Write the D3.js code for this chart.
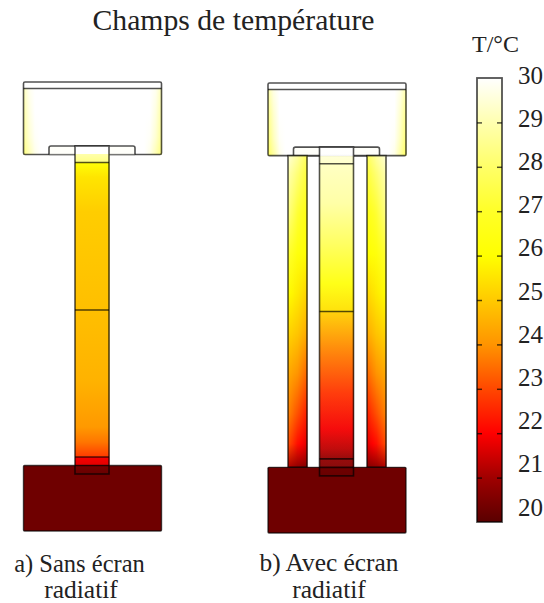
<!DOCTYPE html>
<html>
<head>
<meta charset="utf-8">
<script src="https://cdn.jsdelivr.net/npm/d3@7"></script>
<style>
body { margin: 0; background: #fff; }
text { font-family: "Liberation Serif", serif; fill: #222; }
</style>
</head>
<body>
<div id="chart"></div>
<script>
// colour map
var tempLevels = [20, 21, 22, 23, 24, 25, 26, 27, 28, 29, 30];
var tempColors = ["#5a0000", "#a00000", "#ff0000", "#ff4800", "#ff9400", "#ffca00", "#ffff00", "#ffff28", "#ffff68", "#ffffb0", "#ffffff"];
var tickValues = [20, 21, 22, 23, 24, 25, 26, 27, 28, 29, 30];

// model dimensions (same for both models)
var blockW = [0, 138];
var blockTopY = [0, 72.5];
var capY = 6.5;
var flangeX = [25.5, 111.5];
var flangeY = [64, 72.5];
var rodX = [51.5, 85.5];
var rodY = [64, 392];
var contactY = [80.5, 228, 375];
var blockBottomY = [383.5, 449];
var screenLeftX = [20, 39];
var screenRightX = [99, 118];
var screenY = [72.5, 383.5];

// temperature along the central rod, a) without screen
var rodStationsA = [64, 72.4, 72.5, 80.4, 80.6, 95, 130, 228, 300, 345, 360, 375, 375.2, 383.3, 383.5, 392];
var rodTempsA = [30, 30, 28.9, 28.4, 26.2, 25.5, 25.05, 24.8, 24.55, 24.1, 23.6, 22.8, 21.9, 21.7, 20.4, 20.2];

// temperature along the central rod, b) with screen
var rodStationsB = [64, 72.4, 72.5, 80.4, 80.6, 120, 160, 200, 228, 228.2, 270, 310, 345, 365, 375, 383.3, 383.5, 392];
var rodTempsB = [30, 30, 29.5, 29.3, 29.2, 28.8, 27.8, 26.3, 25.4, 25.1, 23.7, 22.7, 21.9, 21.3, 20.8, 20.6, 20.3, 20.2];

// radiative screen: outer side, middle, inner side
var screenStations = [72.5, 90, 130, 170, 210, 250, 290, 330, 360, 383.5];
var screenOuter = [29.5, 29, 28.4, 27.2, 26, 25.2, 24.4, 23.8, 23.1, 21.2];
var screenMiddle = [28.8, 28.2, 27.2, 26.3, 25.6, 24.9, 24, 23.1, 22.2, 20.8];
var screenInner = [27.8, 27.3, 26.5, 26, 25.2, 24.4, 23.4, 22.4, 21.7, 20.6];

// top block, columns from edge to centre
var topStations = [6.5, 30, 55, 72.5];
var topEdgeA = [29.1, 28.8, 28.6, 28.2];
var topNearEdgeA = [29.8, 29.6, 29.4, 29];
var topEdgeB = [28.9, 28.5, 28.2, 27.9];
var topNearEdgeB = [29.7, 29.4, 29.2, 28.8];
var topMiddle = [30, 30, 29.9, 29.7];
var topCentre = [30, 30, 30, 30];

var bottomBlockTemp = 20.3;

var svgWidth = 544;
var svgHeight = 603;

var svg = d3.select("#chart")
  .append("svg")
  .attr("width", svgWidth)
  .attr("height", svgHeight);

var defs = svg.append("defs");
var gradCount = 0;

var colorScale = d3.scaleLinear().domain(tempLevels).range(tempColors).clamp(true);

// outlines are see-through: grey on white, nearly black on the dark block
var outline = "rgba(0,0,0,0.68)";

// vertical gradient from a list of stations and temperatures
function verticalGradient(stations, temps) {
  var id = "grad" + (gradCount++);
  var grad = defs.append("linearGradient")
    .attr("id", id)
    .attr("x1", 0).attr("y1", 0).attr("x2", 0).attr("y2", 1);
  var pos = d3.scaleLinear().domain(d3.extent(stations)).range([0, 100]);
  stations.forEach(function(s, i) {
    grad.append("stop")
      .attr("offset", pos(s) + "%")
      .attr("stop-color", colorScale(temps[i]));
  });
  return "url(#" + id + ")";
}

// paints a field as thin vertical strips, blending the columns across the width
function drawField(g, xs, ys, x0, x1, stations, columns) {
  var left = xs(x0), right = xs(x1);
  var across = d3.scaleLinear()
    .domain(d3.range(columns.length).map(function(i) { return i / (columns.length - 1); }))
    .range(columns);
  var n = Math.ceil(right - left);
  d3.range(n).forEach(function(i) {
    var temps = across((i + 0.5) / n);
    g.append("rect")
      .attr("x", left + i * (right - left) / n)
      .attr("y", ys(stations[0]))
      .attr("width", (right - left) / n + 0.4)
      .attr("height", ys(stations[stations.length - 1]) - ys(stations[0]))
      .attr("fill", verticalGradient(stations, temps));
  });
}

function drawBox(g, xs, ys, xr, yr, radius) {
  return g.append("rect")
    .attr("x", xs(xr[0]))
    .attr("y", ys(yr[0]))
    .attr("width", xs(xr[1]) - xs(xr[0]))
    .attr("height", ys(yr[1]) - ys(yr[0]))
    .attr("rx", radius || 0)
    .attr("fill", "none")
    .attr("stroke", outline)
    .attr("stroke-width", 1.6);
}

function drawLine(g, xs, ys, xr, y, color) {
  g.append("line")
    .attr("x1", xs(xr[0])).attr("x2", xs(xr[1]))
    .attr("y1", ys(y)).attr("y2", ys(y))
    .attr("stroke", color || outline)
    .attr("stroke-width", 1.6);
}

function drawModel(xs, ys, rodStations, rodTemps, topEdge, topNearEdge, withScreen) {
  var g = svg.append("g");

  // top block
  var side = [topEdge, topNearEdge, topMiddle, topCentre];
  var middle = d3.range(17).map(function() { return topCentre; });
  drawField(g, xs, ys, blockW[0], blockW[1], topStations,
    side.concat(middle, side.slice().reverse()));
  drawBox(g, xs, ys, blockW, blockTopY, 1.5);
  drawLine(g, xs, ys, blockW, capY);

  // flange
  g.append("rect")
    .attr("x", xs(flangeX[0])).attr("y", ys(flangeY[0]))
    .attr("width", xs(flangeX[1]) - xs(flangeX[0]))
    .attr("height", ys(flangeY[1]) - ys(flangeY[0]))
    .attr("fill", "#fffffa");
  g.append("path")
    .attr("d", "M" + xs(flangeX[0]) + "," + ys(flangeY[1]) +
      "V" + (ys(flangeY[0]) + 2) + "Q" + xs(flangeX[0]) + "," + ys(flangeY[0]) + " " + (xs(flangeX[0]) + 2) + "," + ys(flangeY[0]) +
      "H" + (xs(flangeX[1]) - 2) + "Q" + xs(flangeX[1]) + "," + ys(flangeY[0]) + " " + xs(flangeX[1]) + "," + (ys(flangeY[0]) + 2) +
      "V" + ys(flangeY[1]))
    .attr("fill", "none")
    .attr("stroke", outline)
    .attr("stroke-width", 1.6);
  drawLine(g, xs, ys, flangeX, flangeY[1], withScreen ? outline : "rgba(0,0,0,0.3)");

  // radiative screen, hotter on the outer side
  if (withScreen) {
    drawField(g, xs, ys, screenLeftX[0], screenLeftX[1], screenStations, [screenOuter, screenMiddle, screenInner]);
    drawField(g, xs, ys, screenRightX[0], screenRightX[1], screenStations, [screenInner, screenMiddle, screenOuter]);
    drawBox(g, xs, ys, screenLeftX, screenY);
    drawBox(g, xs, ys, screenRightX, screenY);
  }

  // bottom block
  g.append("rect")
    .attr("x", xs(blockW[0])).attr("y", ys(blockBottomY[0]))
    .attr("width", xs(blockW[1]) - xs(blockW[0]))
    .attr("height", ys(blockBottomY[1]) - ys(blockBottomY[0]))
    .attr("rx", 1)
    .attr("fill", colorScale(bottomBlockTemp))
    .attr("stroke", outline)
    .attr("stroke-width", 1.4);

  // central rod
  drawField(g, xs, ys, rodX[0], rodX[1], rodStations, [rodTemps, rodTemps]);
  drawBox(g, xs, ys, rodX, rodY);
  contactY.forEach(function(y) { drawLine(g, xs, ys, rodX, y); });
  drawLine(g, xs, ys, rodX, blockBottomY[0]);
}

var yModelA = d3.scaleLinear().domain([0, 449]).range([82, 531]);
var yModelB = d3.scaleLinear().domain([0, 449]).range([83, 533]);
var xModelA = d3.scaleLinear().domain(blockW).range([23.5, 161.5]);
var xModelB = d3.scaleLinear().domain(blockW).range([268, 406]);

drawModel(xModelA, yModelA, rodStationsA, rodTempsA, topEdgeA, topNearEdgeA, false);
drawModel(xModelB, yModelB, rodStationsB, rodTempsB, topEdgeB, topNearEdgeB, true);

// colour bar
var barX = 477, barW = 25;
var barScale = d3.scaleLinear().domain([20, 30]).range([522, 78]);
var labelScale = d3.scaleLinear().domain([20, 30]).range([507, 75]);

// hottest colour at the top of the bar
svg.append("rect")
  .attr("x", barX).attr("y", barScale(30))
  .attr("width", barW).attr("height", barScale(20) - barScale(30))
  .attr("fill", verticalGradient(tempLevels.map(function(d) { return -d; }).reverse(), tempLevels.slice().reverse()))
  .attr("stroke", outline)
  .attr("stroke-width", 1.8);

// tick marks sit inside the bar on both edges
var leftTicks = svg.append("g")
  .attr("transform", "translate(" + barX + ",0)")
  .call(d3.axisRight(barScale).tickValues(tickValues.slice(1, 10)).tickSize(5).tickFormat(""));
var rightTicks = svg.append("g")
  .attr("transform", "translate(" + (barX + barW) + ",0)")
  .call(d3.axisLeft(barScale).tickValues(tickValues.slice(1, 10)).tickSize(5).tickFormat(""));
[leftTicks, rightTicks].forEach(function(a) {
  a.select(".domain").remove();
  a.selectAll("line").attr("stroke", outline).attr("stroke-width", 1.5);
});

var tickLabels = svg.append("g")
  .attr("transform", "translate(518,0)")
  .call(d3.axisRight(labelScale).tickValues(tickValues).tickSize(0).tickPadding(0).tickFormat(d3.format("d")));
tickLabels.select(".domain").remove();
tickLabels.selectAll("text")
  .style("font-family", '"Liberation Serif", serif')
  .style("font-size", "25px")
  .style("fill", "#222");

// texts
function addText(str, x, y, size) {
  svg.append("text")
    .attr("x", x).attr("y", y)
    .attr("text-anchor", "middle")
    .style("font-size", size + "px")
    .text(str);
}

addText("Champs de température", 233.5, 30, 29.7);
addText("T/°C", 495.5, 52, 24);
addText("a) Sans écran", 79.5, 572, 24.5);
addText("radiatif", 81, 598, 25.5);
addText("b) Avec écran", 329, 571, 25.4);
addText("radiatif", 329, 598, 25.5);
</script>
</body>
</html>
